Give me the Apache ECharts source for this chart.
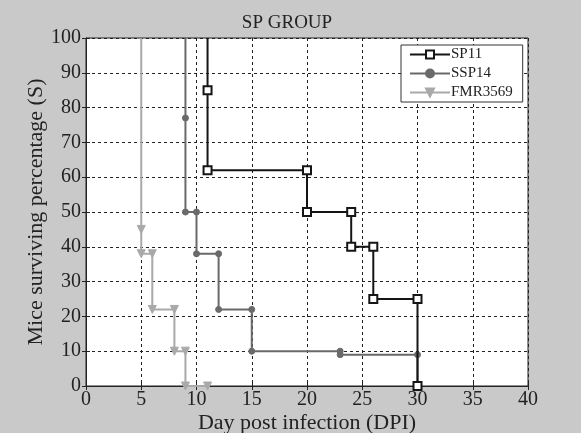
<!DOCTYPE html>
<html>
<head>
<meta charset="utf-8">
<script src="https://cdn.jsdelivr.net/npm/echarts@6/dist/echarts.min.js"></script>
<style>
  html, body { margin: 0; padding: 0; background: #c9c9c9; }
  #chart { width: 581px; height: 433px; }
</style>
</head>
<body>
<div id="chart"></div>
<script>
// survival steps: [day, percent]
const sp11 = [[11, 100], [11, 85], [11, 62], [20, 62], [20, 50], [24, 50], [24, 40], [26, 40], [26, 25], [30, 25], [30, 0]];
const ssp14 = [[9, 100], [9, 77], [9, 50], [10, 50], [10, 38], [12, 38], [12, 22], [15, 22], [15, 10], [23, 10], [23, 9], [30, 9], [30, 0]];
const fmr3569 = [[5, 100], [5, 45], [5, 38], [6, 38], [6, 22], [8, 22], [8, 10], [9, 10], [9, 0], [11, 0]];

const nomes = ['SP11', 'SSP14', 'FMR3569'];
const cores = ['#151515', '#6a6a6a', '#a9a9a9'];

const fonte = 'Liberation Serif';
const chart = echarts.init(document.getElementById('chart'));

// o primeiro ponto (100%) fica sem marcador, como no original
const semTopo = dados => dados.map((p, i) => i === 0 ? { value: p, symbol: 'none' } : p);

const tick = { show: true, inside: true, length: 4, lineStyle: { color: '#222' } };
const grade = { show: true, lineStyle: { color: '#222', type: [3, 3], width: 1 } };

const option = {
  backgroundColor: '#c9c9c9',
  animation: false,
  title: {
    text: 'SP GROUP',
    left: 282,
    top: 9,
    textAlign: 'center',
    textStyle: { fontFamily: fonte, fontSize: 19, fontWeight: 'normal', color: '#222' }
  },
  legend: {
    orient: 'vertical',
    left: 401,
    top: 45,
    itemWidth: 40,
    itemHeight: 10,
    itemGap: 4,
    padding: [2, 10, 2, 8],
    backgroundColor: '#fff',
    borderColor: '#333',
    borderWidth: 1,
    borderRadius: 0,
    textStyle: { fontFamily: fonte, fontSize: 15, color: '#222', padding: [0, 0, 0, -4] },
    data: nomes
  },
  grid: {
    left: 86, right: 53, top: 38, bottom: 47,
    containLabel: false, outerBoundsMode: 'none',
    show: true, backgroundColor: '#fff', borderColor: '#222', borderWidth: 1
  },
  xAxis: [{
    type: 'value', min: 0, max: 40, interval: 5,
    name: 'Day post infection (DPI)', nameLocation: 'middle', nameGap: 26, nameMoveOverlap: false,
    nameTextStyle: { fontFamily: fonte, fontSize: 22, color: '#222' },
    axisLine: { show: true, lineStyle: { color: '#222' } },
    axisTick: tick,
    axisLabel: { fontFamily: fonte, fontSize: 20, color: '#222', margin: 4 },
    splitLine: grade
  }, {
    type: 'value', position: 'top', min: 0, max: 40, interval: 5,
    axisLine: { show: false }, axisTick: tick, axisLabel: { show: false }, splitLine: { show: false }
  }],
  yAxis: [{
    type: 'value', min: 0, max: 100, interval: 10,
    name: 'Mice surviving percentage (S)', nameLocation: 'middle', nameGap: 39, nameMoveOverlap: false,
    nameTextStyle: { fontFamily: fonte, fontSize: 22, color: '#222' },
    axisLine: { show: true, lineStyle: { color: '#222' } },
    axisTick: tick,
    axisLabel: { fontFamily: fonte, fontSize: 20, color: '#222', margin: 5, padding: [0, 0, 9, 0] },
    splitLine: grade
  }, {
    type: 'value', position: 'right', min: 0, max: 100, interval: 10,
    axisLine: { show: false }, axisTick: tick, axisLabel: { show: false }, splitLine: { show: false }
  }],
  series: [
    {
      name: 'SP11', type: 'line', data: semTopo(sp11), z: 5,
      symbol: 'rect', symbolSize: 8, showAllSymbol: true,
      lineStyle: { color: cores[0], width: 2 },
      itemStyle: { color: '#fff', borderColor: cores[0], borderWidth: 2 }
    },
    {
      name: 'SSP14', type: 'line', data: semTopo(ssp14), z: 4,
      symbol: 'circle', symbolSize: 6, showAllSymbol: true,
      lineStyle: { color: cores[1], width: 2 },
      itemStyle: { color: cores[1], borderColor: cores[1], borderWidth: 1 }
    },
    {
      name: 'FMR3569', type: 'line', data: semTopo(fmr3569), z: 3,
      symbol: 'triangle', symbolRotate: 180, symbolSize: 8, showAllSymbol: true,
      lineStyle: { color: cores[2], width: 2 },
      itemStyle: { color: cores[2], borderColor: cores[2], borderWidth: 1 }
    }
  ]
};

chart.setOption(option);
</script>
</body>
</html>
